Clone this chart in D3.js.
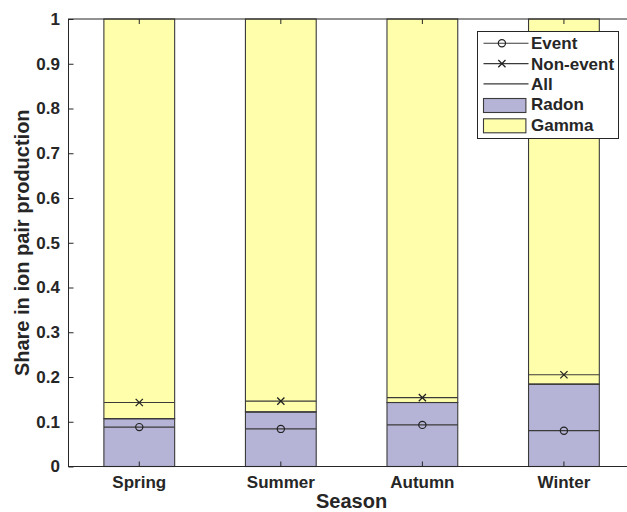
<!DOCTYPE html>
<html>
<head>
<meta charset="utf-8">
<script src="https://cdn.jsdelivr.net/npm/d3@7"></script>
<style>
  html, body { margin: 0; padding: 0; background: #fff; }
  svg { display: block; }
  text { font-family: "Liberation Sans", Arial, Helvetica, sans-serif; font-weight: bold; fill: #262626; }
</style>
</head>
<body>
<svg id="chart" width="627" height="512"></svg>
<script>
// Seasonal share of ion pair production: radon vs gamma, with event / non-event radon shares
const seasons = ["Spring", "Summer", "Autumn", "Winter"];
const radonAll = [0.107, 0.122, 0.143, 0.184];
const gamma = [0.893, 0.878, 0.857, 0.816];
const radonEvent = [0.088, 0.084, 0.093, 0.080];
const radonNonEvent = [0.143, 0.146, 0.154, 0.205];
const yTicks = [0, 0.1, 0.2, 0.3, 0.4, 0.5, 0.6, 0.7, 0.8, 0.9, 1];

const colors = { Radon: "#b6b4d6", Gamma: "#ffffab" };
const ink = "#262626";
const lineInk = "#3a3a3a";
const tickFont = 17;
const titleFont = 20;

const svg = d3.select("#chart");
const margin = { left: 68.5, top: 19, right: 634.7, bottom: 466.5 };

const x = d3.scaleBand()
  .domain(seasons)
  .range([margin.left, margin.right])
  .paddingInner(0.5)
  .paddingOuter(0.25);

const y = d3.scaleLinear().domain([0, 1]).range([margin.bottom, margin.top]);

// stacked bars: radon at the bottom, gamma above
const rows = seasons.map((s, i) => ({ season: s, Radon: radonAll[i], Gamma: gamma[i] }));
const stack = d3.stack().keys(["Radon", "Gamma"])(rows);

svg.append("g").selectAll("g")
  .data(stack)
  .join("g")
  .attr("fill", d => colors[d.key])
  .selectAll("rect")
  .data(d => d)
  .join("rect")
  .attr("x", d => x(d.data.season))
  .attr("width", x.bandwidth())
  .attr("y", d => y(d[1]))
  .attr("height", d => y(d[0]) - y(d[1]))
  .attr("stroke", lineInk)
  .attr("stroke-width", 1.1);

// horizontal reference lines across each bar
function hLines(values, cls) {
  svg.append("g").attr("class", cls).selectAll("line")
    .data(values.map((v, i) => ({ v, s: seasons[i] })))
    .join("line")
    .attr("x1", d => x(d.s))
    .attr("x2", d => x(d.s) + x.bandwidth())
    .attr("y1", d => y(d.v))
    .attr("y2", d => y(d.v))
    .attr("stroke", lineInk)
    .attr("stroke-width", 1.2);
}
hLines(radonAll, "all");
hLines(radonEvent, "event");
hLines(radonNonEvent, "nonevent");

const cx = s => x(s) + x.bandwidth() / 2;

function circleMarker(g, px, py) {
  g.append("circle").attr("cx", px).attr("cy", py).attr("r", 3.6)
    .attr("fill", "none").attr("stroke", "#222").attr("stroke-width", 1.2);
}
function crossMarker(g, px, py) {
  const r = 3.6;
  g.append("path")
    .attr("d", `M${px - r},${py - r}L${px + r},${py + r}M${px - r},${py + r}L${px + r},${py - r}`)
    .attr("stroke", "#222").attr("stroke-width", 1.3).attr("fill", "none");
}

const markers = svg.append("g");
seasons.forEach((s, i) => {
  circleMarker(markers, cx(s), y(radonEvent[i]));
  crossMarker(markers, cx(s), y(radonNonEvent[i]));
});

// axes box (extends past the right edge of the canvas)
svg.append("rect")
  .attr("x", margin.left).attr("y", margin.top)
  .attr("width", margin.right - margin.left).attr("height", margin.bottom - margin.top)
  .attr("fill", "none").attr("stroke", ink).attr("stroke-width", 1);

// y axis with inward ticks
const yAxis = d3.axisLeft(y).tickValues(yTicks).tickSize(-5).tickPadding(8.5)
  .tickFormat(d => d === 0 || d === 1 ? d3.format("d")(d) : d3.format(".1f")(d));
const gy = svg.append("g").attr("transform", `translate(${margin.left},0)`).call(yAxis);
gy.select(".domain").remove();
gy.selectAll(".tick line").attr("stroke", ink);
gy.selectAll(".tick text").attr("font-size", tickFont).attr("fill", ink)
  .style("font-family", "'Liberation Sans', Arial, sans-serif").style("font-weight", "bold");

// x axis with inward ticks
const xAxis = d3.axisBottom(x).tickSize(-5).tickPadding(9.7);
const gx = svg.append("g").attr("transform", `translate(0,${margin.bottom})`).call(xAxis);
gx.select(".domain").remove();
gx.selectAll(".tick line").attr("stroke", ink);
gx.selectAll(".tick text").attr("font-size", tickFont).attr("fill", ink)
  .style("font-family", "'Liberation Sans', Arial, sans-serif").style("font-weight", "bold");

// top ticks (box)
svg.append("g").selectAll("line").data(seasons).join("line")
  .attr("x1", cx).attr("x2", cx)
  .attr("y1", margin.top).attr("y2", margin.top + 5)
  .attr("stroke", ink);

// axis titles
svg.append("text")
  .attr("x", (margin.left + margin.right) / 2)
  .attr("y", 508)
  .attr("text-anchor", "middle")
  .attr("font-size", titleFont)
  .text("Season");

svg.append("text")
  .attr("transform", `translate(29,${(margin.top + margin.bottom) / 2}) rotate(-90)`)
  .attr("text-anchor", "middle")
  .attr("font-size", titleFont)
  .text("Share in ion pair production");

// legend
const lg = svg.append("g").attr("transform", "translate(477.5,31.5)");
lg.append("rect").attr("width", 141).attr("height", 107)
  .attr("fill", "#fff").attr("stroke", ink).attr("stroke-width", 1);

const legendItems = [
  { label: "Event", type: "circle" },
  { label: "Non-event", type: "cross" },
  { label: "All", type: "line" },
  { label: "Radon", type: "patch", color: colors.Radon },
  { label: "Gamma", type: "patch", color: colors.Gamma }
];
legendItems.forEach((d, i) => {
  const cy = 11.8 + i * 20.3;
  const row = lg.append("g");
  if (d.type === "patch") {
    row.append("rect").attr("x", 6).attr("y", cy - 5.7).attr("width", 42.4).attr("height", 14)
      .attr("fill", d.color).attr("stroke", lineInk).attr("stroke-width", 1.1);
  } else {
    row.append("line").attr("x1", 6).attr("x2", 51).attr("y1", cy).attr("y2", cy)
      .attr("stroke", lineInk).attr("stroke-width", 1.1);
    if (d.type === "circle") circleMarker(row, 24.4, cy);
    if (d.type === "cross") crossMarker(row, 24.4, cy);
  }
  row.append("text").attr("x", 53.5).attr("y", cy + 6).attr("font-size", tickFont).text(d.label);
});
</script>
</body>
</html>
